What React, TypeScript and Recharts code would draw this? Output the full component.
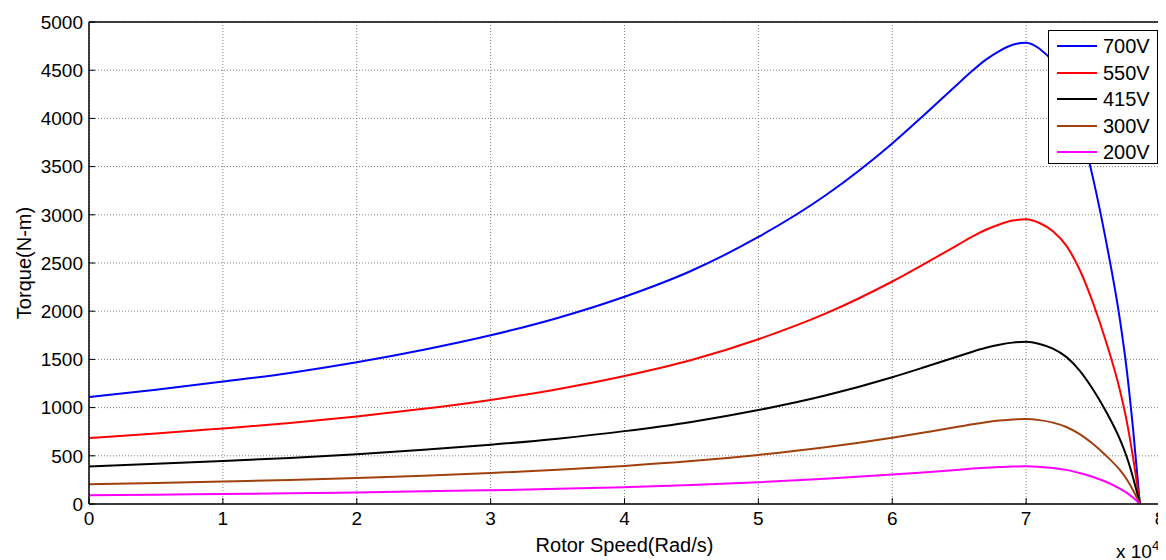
import { LineChart, Line, XAxis, YAxis, CartesianGrid } from 'recharts'

// rotor speed samples (rad/s)
const speed = [0, 5000, 10000, 15000, 20000, 25000, 30000, 35000, 40000, 45000, 50000, 55000, 60000, 62500, 65000, 66000, 67000, 68000, 69000, 70000, 71000, 72000, 73000, 74000, 75000, 76000, 77000, 77500, 78000, 78500]

const t700 = [1110, 1185, 1270, 1360, 1470, 1600, 1750, 1930, 2150, 2420, 2770, 3200, 3740, 4050, 4370, 4496, 4610, 4699, 4764, 4785, 4723, 4585, 4342, 3937, 3378, 2706, 1917, 1410, 762, 0]
const t550 = [685, 731, 784, 839, 907, 987, 1080, 1191, 1327, 1493, 1709, 1974, 2308, 2499, 2696, 2775, 2845, 2900, 2940, 2955, 2915, 2830, 2680, 2430, 2085, 1670, 1183, 870, 470, 0]
const t415 = [390, 417, 446, 478, 517, 562, 615, 678, 756, 851, 974, 1125, 1315, 1424, 1536, 1580, 1620, 1652, 1674, 1683, 1660, 1612, 1526, 1384, 1187, 951, 674, 495, 268, 0]
const t300 = [204, 218, 233, 250, 270, 294, 321, 355, 395, 445, 509, 588, 687, 744, 803, 828, 849, 865, 877, 881, 870, 844, 799, 725, 622, 498, 353, 260, 140, 0]
const t200 = [91, 97, 104, 111, 120, 131, 143, 157, 175, 197, 226, 261, 305, 330, 356, 367, 376, 383, 389, 391, 385, 374, 354, 321, 280, 228, 160, 118, 64, 0]

const xTicks = [0, 10000, 20000, 30000, 40000, 50000, 60000, 70000, 80000]
const yTicks = [0, 500, 1000, 1500, 2000, 2500, 3000, 3500, 4000, 4500, 5000]

const series = [
  { key: 'v700', name: '700V', color: '#0000ff', values: t700 },
  { key: 'v550', name: '550V', color: '#ff0000', values: t550 },
  { key: 'v415', name: '415V', color: '#000000', values: t415 },
  { key: 'v300', name: '300V', color: '#a0410d', values: t300 },
  { key: 'v200', name: '200V', color: '#ff00ff', values: t200 },
]

const data = speed.map((x, i) => {
  const row: Record<string, number> = { x }
  series.forEach(s => { row[s.key] = s.values[i] })
  return row
})

const font = '"Liberation Sans", Arial, sans-serif'
const tickStyle = { fontSize: 19, fill: '#000', fontFamily: font }

export default function App() {
  return (
    <div style={{ position: 'relative', width: 1158, height: 552, fontFamily: font }}>
      <LineChart width={1158} height={552} data={data} margin={{ top: 0, right: 0, bottom: 0, left: 0 }}>
        <CartesianGrid stroke="#808080" strokeDasharray="1 2" />
        <XAxis
          dataKey="x"
          type="number"
          domain={[0, 80000]}
          ticks={xTicks}
          interval={0}
          tickFormatter={v => String(v / 10000)}
          height={56}
          tickSize={-6}
          tickMargin={14}
          tick={tickStyle}
          axisLine={{ stroke: '#000', strokeWidth: 1.5 }}
          tickLine={{ stroke: '#000' }}
        />
        <XAxis
          xAxisId="top"
          orientation="top"
          type="number"
          domain={[0, 80000]}
          ticks={xTicks}
          interval={0}
          height={14}
          tickSize={-6}
          tick={false}
          axisLine={{ stroke: '#000', strokeWidth: 1.5 }}
          tickLine={{ stroke: '#000' }}
        />
        <YAxis
          type="number"
          domain={[0, 5000]}
          ticks={yTicks}
          interval={0}
          width={81}
          tickSize={-6}
          tickMargin={12}
          tick={tickStyle}
          axisLine={{ stroke: '#000', strokeWidth: 1.5 }}
          tickLine={{ stroke: '#000' }}
        />
        <YAxis
          yAxisId="right"
          orientation="right"
          type="number"
          domain={[0, 5000]}
          ticks={yTicks}
          interval={0}
          width={6}
          tickSize={-6}
          tick={false}
          axisLine={{ stroke: '#000', strokeWidth: 1.5 }}
          tickLine={{ stroke: '#000' }}
        />
        {series.map(s => (
          <Line
            key={s.key}
            dataKey={s.key}
            name={s.name}
            type="monotone"
            stroke={s.color}
            strokeWidth={2}
            dot={false}
            isAnimationActive={false}
          />
        ))}
      </LineChart>

      {/* legend */}
      <div style={{ position: 'absolute', left: 1040, top: 22, width: 110, height: 134, border: '1.5px solid #000', background: '#fff', boxSizing: 'border-box', paddingTop: 2 }}>
        {series.map(s => (
          <div key={s.key} style={{ display: 'flex', alignItems: 'center', height: 26.5 }}>
            <div style={{ marginLeft: 8, width: 40, height: 2, background: s.color }} />
            <span style={{ marginLeft: 6, fontSize: 20, lineHeight: '20px' }}>{s.name}</span>
          </div>
        ))}
      </div>

      {/* axis titles */}
      <div style={{ position: 'absolute', left: 81, width: 1071, top: 526, textAlign: 'center', fontSize: 20, lineHeight: '23px' }}>
        Rotor Speed(Rad/s)
      </div>
      <div style={{ position: 'absolute', left: 1108, top: 532, fontSize: 19, lineHeight: '23px' }}>
        x 10<sup style={{ fontSize: 13, verticalAlign: 'top', position: 'relative', top: -6 }}>4</sup>
      </div>
      <div style={{ position: 'absolute', left: 16, top: 255, fontSize: 20, transform: 'translate(-50%, -50%) rotate(-90deg)', whiteSpace: 'nowrap' }}>
        Torque(N-m)
      </div>
    </div>
  )
}
